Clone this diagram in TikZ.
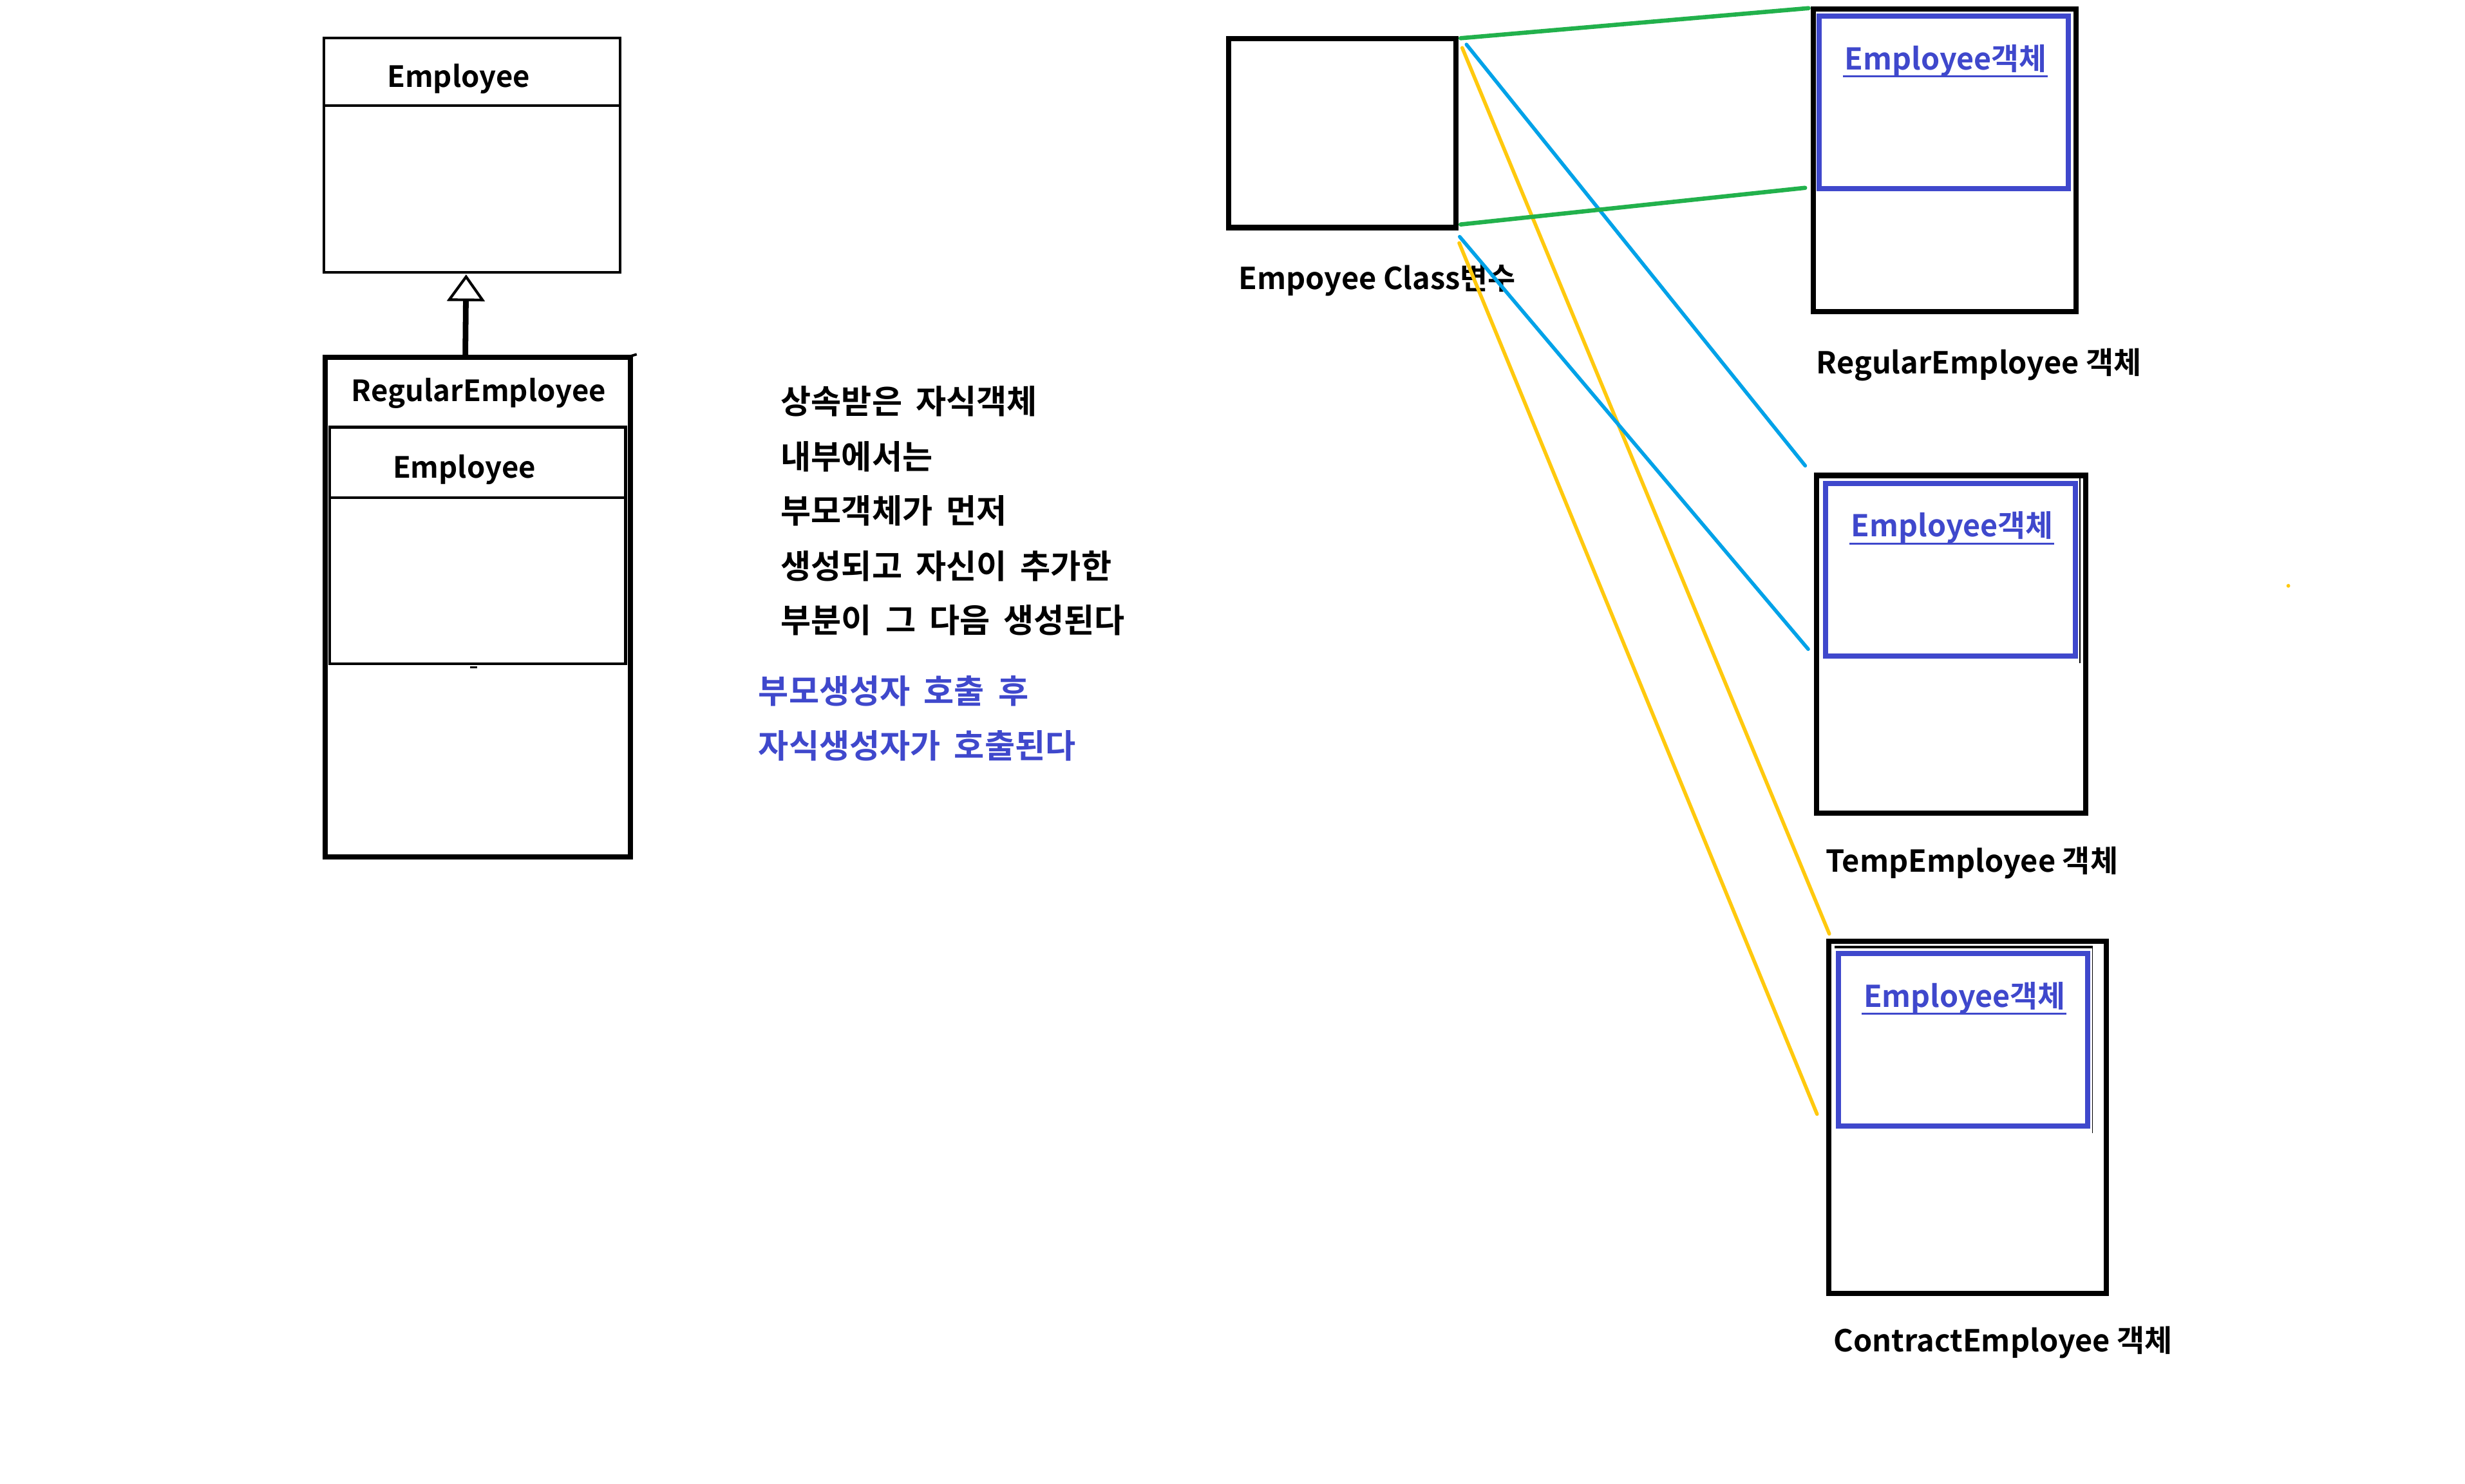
\documentclass[tikz,border=0pt]{standalone}
\usepackage{fontspec}
\setmainfont{Noto Sans CJK KR}[BoldFont={Noto Sans CJK KR Bold}]
\newfontfamily\notefont{Noto Sans CJK KR}[BoldFont={Noto Sans CJK KR Bold}, WordSpace=1.8]
\usetikzlibrary{arrows.meta}
\definecolor{indigo}{HTML}{3F48CC}
\definecolor{pgreen}{HTML}{22B14C}
\definecolor{pblue}{HTML}{00A2E8}
\definecolor{pgold}{HTML}{FFC90E}
\tikzset{
  lbl/.style={inner sep=0pt, outer sep=0pt, font=\bfseries\fontsize{9.6pt}{12pt}\selectfont},
  umltitle/.style={inner sep=0pt, outer sep=0pt, anchor=base, font=\bfseries\fontsize{9.3pt}{12pt}\selectfont},
  note/.style={inner sep=0pt, outer sep=0pt, anchor=west, font=\notefont\bfseries\fontsize{10.5pt}{12pt}\selectfont},
  objlbl/.style={lbl, text=indigo, font=\bfseries\fontsize{9.55pt}{12pt}\selectfont},
  heavy/.style={line width=1.65pt},
  umlbox/.style={line width=0.85pt},
  innerbox/.style={line width=1.65pt, draw=indigo},
  link/.style={line width=1.15pt, line cap=round},
}
\newcommand{\objtitle}[3]{%
  \node[objlbl, anchor=base] (#1) at (#2) {#3};
  \draw[indigo, line width=0.55pt] ([xshift=-0.6pt,yshift=-2.1pt]#1.base west) -- ([xshift=0.3pt,yshift=-2.1pt]#1.base east);
}
\begin{document}
\begin{tikzpicture}[x=0.5pt, y=-0.5pt]
\useasboundingbox[fill=white] (0,0) rectangle (1568,944);

% ---------- UML: Employee <|-- RegularEmployee ----------
\draw[umlbox] (206,24) rectangle (394.5,173.3);
\draw[umlbox] (206,67.2) -- (394.5,67.2);
\node[umltitle] (empname) at (291.7,55.7) {Employee};
\coordinate (empbot) at (296.5,174.6);

\draw[heavy] (206.9,227.5) rectangle (401,545.3);
\draw[line width=0.8pt] (401,226.6) -- (405,225.4);
\node[umltitle] (regname) at (304.5,255.3) {RegularEmployee};
\coordinate (regtop) at (296,226);
\draw[line width=0.9pt] (209.6,271.8) rectangle (398,422.3);
\draw[line width=0.9pt] (209.6,316.5) -- (398,316.5);
\draw[line width=0.6pt] (299,424.6) -- (303.5,424.6);
\node[umltitle] (innername) at (295.3,304) {Employee};

\draw[line width=1.8pt, -{Triangle[open, width=12pt, length=8.5pt, line width=0.85pt]}] (regtop) -- (empbot);

% ---------- explanation ----------
\node[note] (n1) at (496.7,255.3) {상속받은 자식객체};
\node[note] (n2) at (496.7,290.5) {내부에서는};
\node[note] (n3) at (496.7,325.0) {부모객체가 먼저};
\node[note] (n4) at (496.7,360.0) {생성되고 자신이 추가한};
\node[note] (n5) at (496.7,394.7) {부분이 그 다음 생성된다};
\node[note, text=indigo] (n6) at (482.5,439.8) {부모생성자 호출 후};
\node[note, text=indigo] (n7) at (482.5,474.6) {자식생성자가 호출된다};

% ---------- reference variable ----------
\draw[heavy] (781.6,24.5) rectangle (926.3,144.8);
\node[lbl, anchor=base west] (varname) at (787.8,184.3) {Empoyee Class변수};

% ---------- RegularEmployee object ----------
\draw[heavy] (1153.3,5.7) rectangle (1320.4,198.4);
\draw[innerbox] (1157.3,10.2) rectangle (1315.8,120);
\objtitle{regobj}{1237.7,44.4}{Employee객체}
\node[lbl, anchor=base west] (reglbl) at (1155.5,237.7) {RegularEmployee 객체};

% ---------- TempEmployee object ----------
\draw[heavy] (1155.5,302.5) rectangle (1326.8,517.2);
\draw[line width=0.3pt] (1323,303) -- (1323,422);
\draw[innerbox] (1161.2,307.6) rectangle (1320.2,417.3);
\objtitle{tmpobj}{1241.8,341.6}{Employee객체}
\node[lbl, anchor=base west] (tmplbl) at (1161.4,554.7) {TempEmployee 객체};

% ---------- ContractEmployee object ----------
\draw[heavy] (1163.4,599) rectangle (1339.9,822.8);
\draw[line width=0.8pt] (1167.1,602.7) -- (1331.4,602.7);
\draw[line width=0.3pt] (1331,602) -- (1331,721);
\draw[innerbox] (1169.6,606.7) rectangle (1328.1,716.4);
\objtitle{conobj}{1249.7,640.7}{Employee객체}
\node[lbl, anchor=base west] (conlbl) at (1166.4,860.1) {ContractEmployee 객체};

\fill[pgold] (1455.6,372.7) circle (1.2);

% ---------- reference links ----------
\coordinate (vg1) at (929.1,24.3);   \coordinate (rg1) at (1150.4,5.2);
\coordinate (vg2) at (929.1,142.8);  \coordinate (rg2) at (1148.2,119.5);
\coordinate (vb1) at (932.8,28.3);   \coordinate (tb1) at (1148.3,296.3);
\coordinate (vb2) at (928.5,150.6);  \coordinate (tb2) at (1150.2,413);
\coordinate (vy1) at (930.1,30.4);   \coordinate (cy1) at (1163.6,594.1);
\coordinate (vy2) at (928.2,154.6);  \coordinate (cy2) at (1155.8,708.8);

\draw[link, pgold] (vy1) -- (cy1);
\draw[link, pgold] (vy2) -- (cy2);
\draw[link, pblue] (vb1) -- (tb1);
\draw[link, pblue] (vb2) -- (tb2);
\draw[link, pgreen, line width=1.35pt] (vg1) -- (rg1);
\draw[link, pgreen, line width=1.35pt] (vg2) -- (rg2);
\end{tikzpicture}
\end{document}
